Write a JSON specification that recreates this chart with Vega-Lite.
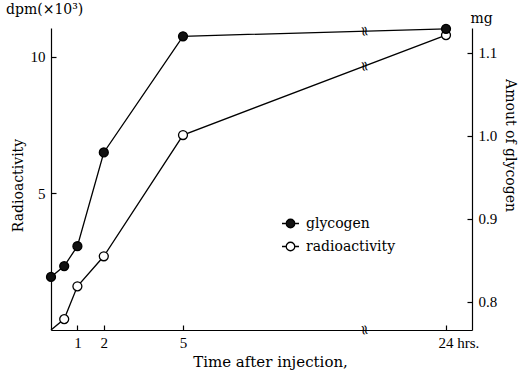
{
  "$schema": "https://vega.github.io/schema/vega-lite/v6.json",
  "width": 421,
  "height": 302,
  "autosize": {"type": "none"},
  "padding": {"left": 51, "top": 28, "right": 47, "bottom": 43},
  "background": "white",
  "title": {"text": "dpm(×10³)", "anchor": "start", "frame": "group", "dx": -45, "dy": 6, "offset": 0, "fontSize": 14, "font": "DejaVu Serif", "fontWeight": "normal", "color": "black"},
  "datasets": {
    "radio": [
      {"t": 0, "value": 0, "series": "radioactivity"},
      {"t": 0.5, "value": 0.4, "series": "radioactivity"},
      {"t": 1, "value": 1.6, "series": "radioactivity"},
      {"t": 2, "value": 2.7, "series": "radioactivity"},
      {"t": 5, "value": 7.14, "series": "radioactivity"},
      {"t": 24, "value": 10.8, "series": "radioactivity"}
    ],
    "glyc": [
      {"t": 0, "value": 0.83, "series": "glycogen"},
      {"t": 0.5, "value": 0.843, "series": "glycogen"},
      {"t": 1, "value": 0.867, "series": "glycogen"},
      {"t": 2, "value": 0.98, "series": "glycogen"},
      {"t": 5, "value": 1.12, "series": "glycogen"},
      {"t": 24, "value": 1.129, "series": "glycogen"}
    ],
    "breaksR": [
      {"t": 18.1, "value": 9.66},
      {"t": 18.1, "value": 0}
    ],
    "breaksG": [
      {"t": 18.1, "value": 1.126}
    ]
  },
  "layer": [
    {
      "encoding": {
        "x": {"field": "t", "type": "quantitative",
          "scale": {"domain": [0, 5, 24, 25.9], "range": [0, 132, 395, 421], "nice": false, "zero": false},
          "axis": {"orient": "bottom", "values": [1, 2, 5, 24], "labelExpr": "datum.value == 24 ? '24 hrs.' : datum.label",
            "labelAlign": {"condition": {"test": "datum.value == 24", "value": "left"}, "value": "center"},
            "labelOffset": {"condition": {"test": "datum.value == 24", "value": -8}, "value": 0},
            "tickSize": -5, "labelPadding": 10,
            "title": "Time after injection,", "titleFontSize": 15, "titleX": 219, "titleY": 36, "titleBaseline": "alphabetic"}},
        "y": {"field": "value", "type": "quantitative",
          "scale": {"domain": [0, 11.06], "nice": false, "zero": false},
          "axis": {"orient": "left", "values": [5, 10], "tickSize": -5, "labelPadding": 11,
            "title": "Radioactivity", "titleX": -33, "titleY": 157, "titleBaseline": "middle", "titleAlign": "center"}}
      },
      "layer": [
        {"data": {"name": "radio"}, "mark": {"type": "line", "color": "black", "strokeWidth": 1.3}, "encoding": {}},
        {"data": {"name": "radio"}, "transform": [{"filter": "datum.t > 0"}],
          "mark": {"type": "point", "filled": true, "fill": "white", "size": 80, "stroke": "black", "strokeWidth": 1.3, "opacity": 1}},
        {"data": {"name": "breaksR"}, "mark": {"type": "text", "text": "≈", "angle": 80, "fontSize": 14, "font": "DejaVu Sans", "color": "black"}}
      ]
    },
    {
      "encoding": {
        "x": {"field": "t", "type": "quantitative",
          "scale": {"domain": [0, 5, 24, 25.9], "range": [0, 132, 395, 421], "nice": false, "zero": false},
          "axis": {"orient": "top", "domain": false, "ticks": false, "labels": false,
            "title": "mg", "titleAngle": 0, "titleX": 430, "titleY": -6, "titleBaseline": "alphabetic", "titleAlign": "center"}},
        "y": {"field": "value", "type": "quantitative",
          "scale": {"domain": [0.766, 1.13], "nice": false, "zero": false},
          "axis": {"orient": "right", "values": [0.8, 0.9, 1.0, 1.1], "format": ".1f", "tickSize": -5, "labelPadding": 11,
            "title": "Amout of glycogen", "titleAngle": 90, "titleX": 37, "titleY": 117, "titleBaseline": "middle", "titleAlign": "center"}}
      },
      "layer": [
        {"data": {"name": "glyc"}, "mark": {"type": "line", "color": "black", "strokeWidth": 1.3}, "encoding": {}},
        {"data": {"name": "glyc"},
          "mark": {"type": "point", "filled": true, "fill": "#111111", "size": 80, "stroke": "black", "strokeWidth": 1.3, "opacity": 1}},
        {"data": {"name": "glyc"}, "transform": [{"filter": "false"}],
          "mark": {"type": "point", "filled": true, "shape": "M-1,0L-0.5,0M0.5,0L1,0M0.5,0A0.5,0.5,0,1,1,-0.5,0A0.5,0.5,0,1,1,0.5,0", "size": 289, "stroke": "black", "strokeWidth": 1.3, "opacity": 1},
          "encoding": {"fill": {"field": "series", "type": "nominal",
            "scale": {"domain": ["glycogen", "radioactivity"], "range": ["#111111", "white"]},
            "legend": {"orient": "none", "legendX": 230, "legendY": 186, "title": null,
              "symbolType": "M-1,0L-0.5,0M0.5,0L1,0M0.5,0A0.5,0.5,0,1,1,-0.5,0A0.5,0.5,0,1,1,0.5,0",
              "symbolSize": 289, "symbolStrokeColor": "black", "symbolStrokeWidth": 1.3,
              "labelFontSize": 14, "labelFont": "DejaVu Serif", "labelColor": "black",
              "rowPadding": 6, "labelOffset": 6, "padding": 0}}}},
        {"data": {"name": "breaksG"}, "mark": {"type": "text", "text": "≈", "angle": 80, "fontSize": 14, "font": "DejaVu Sans", "color": "black"}}
      ]
    }
  ],
  "resolve": {"scale": {"y": "independent"}, "axis": {"x": "independent"}},
  "config": {
    "view": {"stroke": null},
    "font": "DejaVu Serif",
    "axis": {"domainColor": "black", "tickColor": "black", "labelColor": "black", "titleColor": "black",
      "labelFontSize": 15, "titleFontSize": 14, "titleFontWeight": "normal", "grid": false,
      "labelFont": "Liberation Serif", "titleFont": "DejaVu Serif", "domainWidth": 1.2, "tickWidth": 1.2}
  }
}
